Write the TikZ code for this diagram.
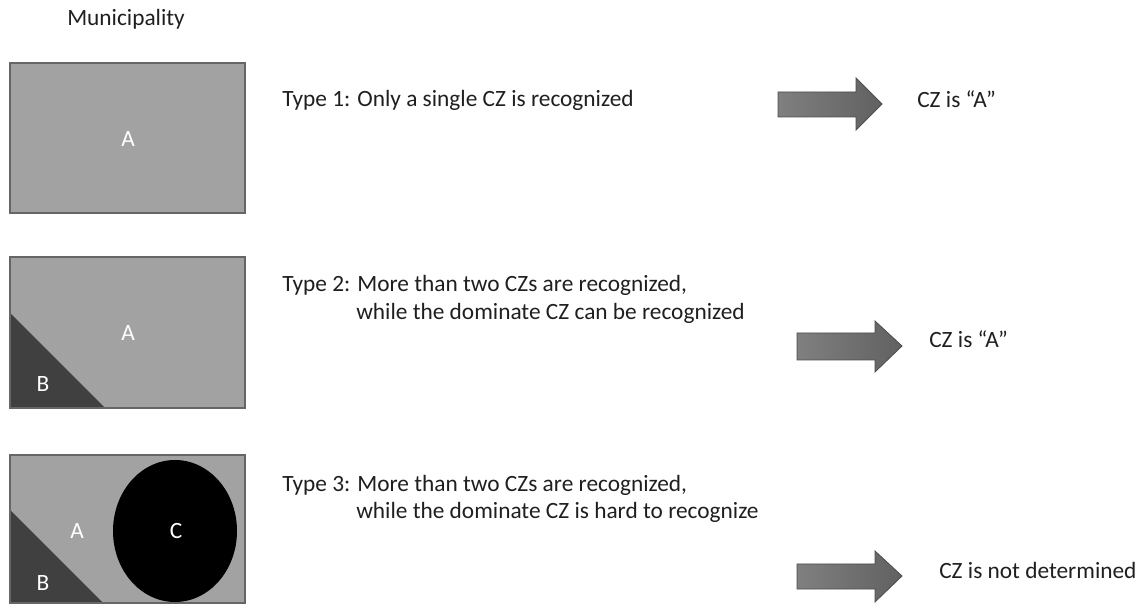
\documentclass[tikz,border=0pt]{standalone}
\usepackage{fontspec}
\setmainfont{Carlito}
\begin{document}
\begin{tikzpicture}[x=0.75pt,y=-0.75pt,
  txt/.style={font=\fontsize{17.5}{21}\selectfont, text=black!88, inner sep=0pt},
  lbl/.style={font=\fontsize{17.5}{21}\selectfont, text=white, inner sep=0pt, anchor=base},
  muni/.style={fill=gray!75!white, draw=gray!85!black, line width=0.8pt},
  minor/.style={fill=black!75},
  major/.style={fill=black},
  bigarrow/.style={draw=black!70, line width=0.6pt, left color=black!50, right color=black!62}]
\useasboundingbox (0,0) rectangle (1146,605);
\definecolor{boxgray}{HTML}{A2A2A2}
% title
\node[txt, anchor=base west] (title) at (67,26) {Municipality};
% box 1
\fill[boxgray] (10,63) rectangle (245,213);
\draw[draw=gray!80!black, line width=0.8pt] (10,63) rectangle (245,213);
\node[lbl] (a1) at (128,147) {A};
% box 2
\fill[boxgray] (10,257) rectangle (245,408);
\fill[black!75] (10,313) -- (10,408) -- (105,408) -- cycle;
\draw[draw=gray!80!black, line width=0.8pt] (10,257) rectangle (245,408);
\node[lbl] (a2) at (128,341) {A};
\node[lbl] (b2) at (43,392) {B};
% box 3
\fill[boxgray] (10,455) rectangle (245,603);
\fill[black!75] (10,510) -- (10,603) -- (103,603) -- cycle;
\fill[black] (175,531) ellipse [x radius=62, y radius=71];
\draw[draw=gray!80!black, line width=0.8pt] (10,455) rectangle (245,603);
\node[lbl] (a3) at (77,539) {A};
\node[lbl] (c3) at (176,539) {C};
\node[lbl] (b3) at (43,590) {B};
% texts
\node[txt, anchor=base west] (t1) at (282,107) {Type 1: Only a single CZ is recognized};
\node[txt, anchor=base west] (t2a) at (282,292) {Type 2: More than two CZs are recognized,};
\node[txt, anchor=base west] (t2b) at (356,320) {while the dominate CZ can be recognized};
\node[txt, anchor=base west] (t3a) at (282,492) {Type 3: More than two CZs are recognized,};
\node[txt, anchor=base west] (t3b) at (356,519) {while the dominate CZ is hard to recognize};
% arrows
\draw[bigarrow] (778,92) -- (856,92) -- (856,78) -- (882,104) -- (856,130) -- (856,117) -- (778,117) -- cycle;
\draw[bigarrow] (797,333) -- (875,333) -- (875,321) -- (902,346) -- (875,372) -- (875,360) -- (797,360) -- cycle;
\draw[bigarrow] (797,564) -- (875,564) -- (875,551) -- (902,576) -- (875,602) -- (875,589) -- (797,589) -- cycle;
% results
\node[txt, anchor=base west] (r1) at (917,108) {CZ is “A”};
\node[txt, anchor=base west] (r2) at (929,348) {CZ is “A”};
\node[txt, anchor=base west] (r3) at (939,579) {CZ is not determined};
\end{tikzpicture}
\end{document}
